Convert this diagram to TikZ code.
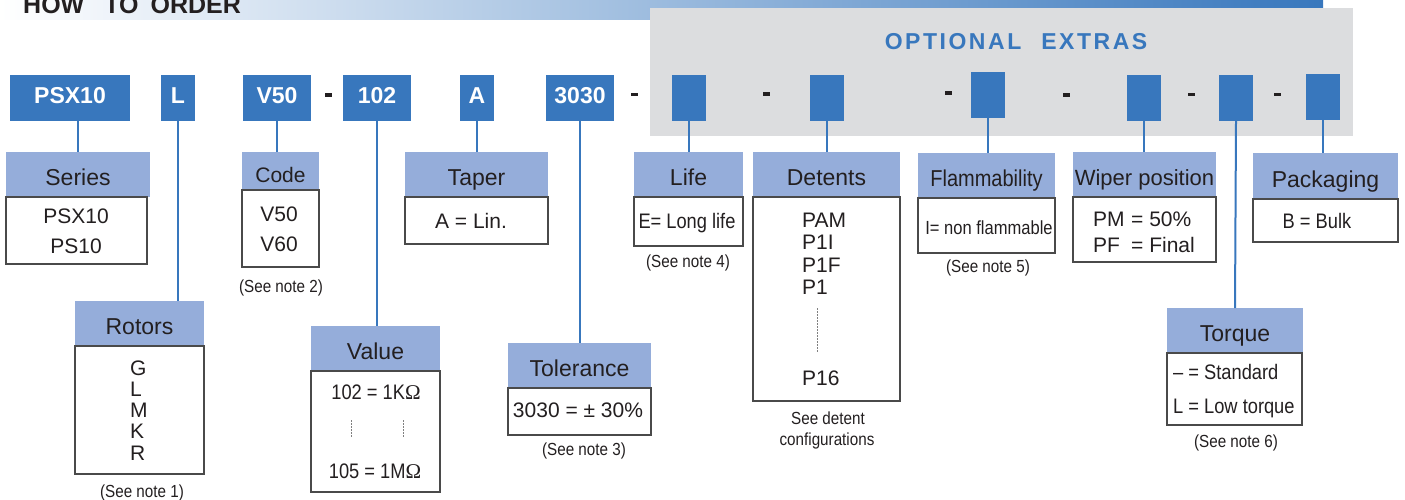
\documentclass[tikz,border=0pt]{standalone}
\usepackage{tikz}
\usepackage{fontspec}
\setmainfont{Liberation Sans}
\newfontfamily\narrowfont[FakeStretch=0.87]{Liberation Sans}
\newfontfamily\omegafont{Liberation Serif}
\newfontfamily\spacedfont[LetterSpace=11]{Liberation Sans}
\newcommand\fsz[1]{\fontsize{#1}{#1}\selectfont}
\definecolor{codeblue}{HTML}{3877BD}
\definecolor{headblue}{HTML}{95ADDA}
\definecolor{extrasgray}{HTML}{DCDDDF}
\definecolor{boxgray}{HTML}{4A4A4A}
\definecolor{inkblack}{HTML}{231F20}

\begin{document}
\begin{tikzpicture}[x=1pt,y=-1pt,
  codebox/.style={fill=codeblue,text=white,font=\bfseries\fsz{23},inner sep=0,outer sep=0,minimum height=46pt,text height=17pt,text depth=6pt,anchor=north west},
  cathead/.style={fill=headblue,text=inkblack,font=\fsz{23},inner sep=0,outer sep=0,minimum height=45pt,text height=22pt,text depth=0pt,anchor=north west},
  catbody/.style={draw=boxgray,line width=1.2pt,fill=white,inner sep=0,outer sep=0,anchor=north west},
  txt/.style={text=inkblack,font=\fsz{21},inner sep=0,anchor=base},
  note/.style={text=inkblack,font=\narrowfont\fsz{17.5},inner sep=0,anchor=base},
  sepmark/.style={fill=inkblack,inner sep=0,minimum width=7pt,minimum height=3.5pt},
  link/.style={draw=codeblue,line width=2pt},
  dots/.style={draw=gray,line width=0.8pt,dash pattern=on 1.5pt off 1.5pt}]
\useasboundingbox (0,0) rectangle (1405,499);
% title bar and optional extras panel
\shade[left color=white,middle color=headblue,right color=codeblue] (0,0) rectangle (1323,19);
\node[anchor=base west,inner sep=0,font=\bfseries\fsz{25},text=inkblack] (howto) at (23,13) {HOW\hspace{20pt}TO\hspace{12pt}ORDER};
\fill[extrasgray] (650,8) rectangle (1353,136);
\node[anchor=base,inner sep=0,font=\spacedfont\bfseries\fsz{23},text=codeblue] (extras) at (1016,49) {OPTIONAL\hspace{20pt}EXTRAS};

% order code
\node[codebox,minimum width=120pt] (psx) at (10,75) {PSX10};
\node[codebox,minimum width=34pt] (rot) at (161,75) {L};
\node[codebox,minimum width=68pt] (code) at (243,75) {V50};
\node[sepmark] (dasha) at (328.5,95) {};
\node[codebox,minimum width=68pt] (val) at (343,75) {102};
\node[codebox,minimum width=34pt] (tap) at (460,75) {A};
\node[codebox,minimum width=68pt] (tol) at (546,75) {3030};
\node[sepmark] (dashb) at (634.5,94.5) {};
\node[codebox,minimum width=34pt] (life) at (672,75) {};
\node[sepmark] (dashc) at (766.5,94) {};
\node[codebox,minimum width=34pt] (det) at (810,75) {};
\node[sepmark] (dashd) at (948.5,93) {};
\node[codebox,minimum width=34pt] (flam) at (971,72) {};
\node[sepmark] (dashe) at (1066.5,95) {};
\node[codebox,minimum width=34pt] (wip) at (1127,75) {};
\node[sepmark] (dashf) at (1191,94.5) {};
\node[codebox,minimum width=34pt] (torq) at (1219,75) {};
\node[sepmark] (dashg) at (1277,94.5) {};
\node[codebox,minimum width=34pt] (pack) at (1306,74) {};

% series
\node[cathead,minimum width=144pt] (serieshd) at (6,152) {Series};
\node[catbody,minimum width=141pt,minimum height=67pt] (seriesbd) at (6,197) {};
\node[txt] (seriesa) at (76,223) {PSX10};
\node[txt] (seriesb) at (76,253) {PS10};
% rotors
\node[cathead,minimum width=129pt] (rotorshd) at (75,301) {Rotors};
\node[catbody,minimum width=129pt,minimum height=128pt] (rotorsbd) at (75,346) {};
\node[txt,anchor=base west] (rotg) at (130,375) {G};
\node[txt,anchor=base west] (rotl) at (130,396) {L};
\node[txt,anchor=base west] (rotm) at (130,417) {M};
\node[txt,anchor=base west] (rotk) at (130,438) {K};
\node[txt,anchor=base west] (rotr) at (130,460) {R};
\node[note] (notea) at (142,497) {(See note 1)};
% code
\node[cathead,minimum width=77pt,minimum height=38pt,font=\fsz{21}] (codehd) at (242,152) {Code};
\node[catbody,minimum width=77pt,minimum height=77pt] (codebd) at (242,190) {};
\node[txt] (codea) at (279,221) {V50};
\node[txt] (codeb) at (279,251) {V60};
\node[note] (noteb) at (281,292) {(See note 2)};
% value
\node[cathead,minimum width=129pt] (valuehd) at (311,326) {Value};
\node[catbody,minimum width=129pt,minimum height=121pt] (valuebd) at (311,371) {};
\node[txt,font=\narrowfont\fsz{21}] (valuea) at (376,399) {102 = 1K{\omegafont Ω}};
\draw[dots] (351,420) -- (351,438);
\draw[dots] (403,420) -- (403,438);
\node[txt,font=\narrowfont\fsz{21}] (valueb) at (375,478) {105 = 1M{\omegafont Ω}};
% taper
\node[cathead,minimum width=143pt] (taperhd) at (405,152) {Taper};
\node[catbody,minimum width=143pt,minimum height=47pt] (taperbd) at (405,197) {};
\node[txt] (tapera) at (471,228) {A = Lin.};
% tolerance
\node[cathead,minimum width=143pt] (tolhd) at (508,343) {Tolerance};
\node[catbody,minimum width=143pt,minimum height=47pt] (tolbd) at (508,388) {};
\node[txt] (tola) at (578,417) {3030 = ± 30\%};
\node[note] (notec) at (584,455) {(See note 3)};
% life
\node[cathead,minimum width=109pt] (lifehd) at (634,152) {Life};
\node[catbody,minimum width=109pt,minimum height=49pt] (lifebd) at (634,197) {};
\node[txt,font=\narrowfont\fsz{21}] (lifea) at (687,228) {E= Long life};
\node[note] (noted) at (688,267) {(See note 4)};
% detents
\node[cathead,minimum width=147pt] (dethd) at (753,152) {Detents};
\node[catbody,minimum width=147pt,minimum height=204pt] (detbd) at (753,197) {};
\node[txt,anchor=base west] (deta) at (802,227) {PAM};
\node[txt,anchor=base west] (detb) at (802,249) {P1I};
\node[txt,anchor=base west] (detc) at (802,272) {P1F};
\node[txt,anchor=base west] (detd) at (802,294) {P1};
\draw[dots] (817,308) -- (817,352);
\node[txt,anchor=base west] (dete) at (802,385) {P16};
\node[note] (notee) at (828,424) {See detent};
\node[note] (notef) at (827,445) {configurations};
% flammability
\node[cathead,minimum width=137pt,font=\narrowfont\fsz{23}] (flamhd) at (918,153) {Flammability};
\node[catbody,minimum width=137pt,minimum height=55pt] (flambd) at (918,198) {};
\node[txt,font=\narrowfont\fsz{19}] (flama) at (989,234) {I= non flammable};
\node[note] (noteg) at (988,272) {(See note 5)};
% wiper position
\node[cathead,minimum width=143pt,font=\fsz{22}] (wiperhd) at (1073,152) {Wiper position};
\node[catbody,minimum width=143pt,minimum height=65pt] (wiperbd) at (1073,197) {};
\node[txt,anchor=base west] (wipera) at (1093,226) {\makebox[38pt][l]{PM}= 50\%};
\node[txt,anchor=base west] (wiperb) at (1093,252) {\makebox[38pt][l]{PF}= Final};
% torque
\node[cathead,minimum width=136pt] (torquehd) at (1167,308) {Torque};
\node[catbody,minimum width=135pt,minimum height=72pt] (torquebd) at (1167,353) {};
\node[txt,anchor=base west,font=\narrowfont\fsz{21}] (torquea) at (1173,379) {– = Standard};
\node[txt,anchor=base west,font=\narrowfont\fsz{21}] (torqueb) at (1173,413) {L = Low torque};
\node[note] (noteh) at (1236,447) {(See note 6)};
% packaging
\node[cathead,minimum width=145pt,minimum height=46pt] (packhd) at (1253,153) {Packaging};
\node[catbody,minimum width=145pt,minimum height=43pt] (packbd) at (1253,199) {};
\node[txt,font=\narrowfont\fsz{21}] (packa) at (1317,228) {B = Bulk};

% links
\draw[link] (psx.south -| serieshd.north) -- (serieshd.north);
\draw[link] (rot.south) -- (rot.south |- rotorshd.north);
\draw[link] (code.south) -- (code.south |- codehd.north);
\draw[link] (val.south) -- (val.south |- valuehd.north);
\draw[link] (tap.south) -- (tap.south |- taperhd.north);
\draw[link] (tol.south) -- (tol.south |- tolhd.north);
\draw[link] (life.south) -- (life.south |- lifehd.north);
\draw[link] (det.south) -- (det.south |- dethd.north);
\draw[link] (flam.south) -- (flam.south |- flamhd.north);
\draw[link] (wip.south) -- (wip.south |- wiperhd.north);
\draw[link] (torq.south) -- (torquehd.north);
\draw[link] (pack.south) -- (pack.south |- packhd.north);
\end{tikzpicture}
\end{document}
